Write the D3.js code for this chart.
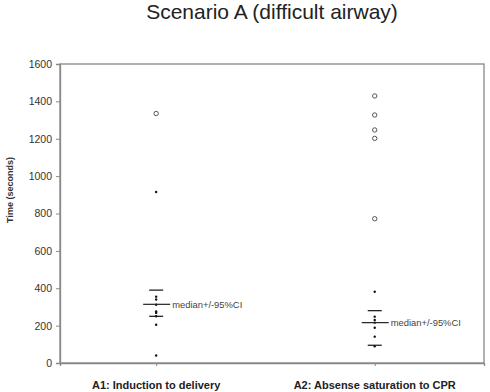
<!DOCTYPE html>
<html>
<head>
<meta charset="utf-8">
<script src="https://cdn.jsdelivr.net/npm/d3@7"></script>
<style>
  body { margin: 0; background: #fff; }
  svg { display: block; font-family: "Liberation Sans", Arial, sans-serif; }
</style>
</head>
<body>
<svg id="chart" width="490" height="392"></svg>
<script>
// values (seconds)
const categories = ["A1: Induction to delivery", "A2: Absense saturation to CPR"];
const a1Points = [915, 355, 340, 312, 276, 268, 250, 205, 40];
const a1Outliers = [1335];
const a2Points = [381, 248, 230, 216, 189, 141, 89];
const a2Outliers = [1429, 1327, 1247, 1202, 772];
const medians = [314, 216];
const ciLow = [250, 95];
const ciHigh = [390, 280];
const yTicks = [0, 200, 400, 600, 800, 1000, 1200, 1400, 1600];

const W = 490, H = 392;
const m = {left: 60, right: 6, top: 64, bottom: 29};

const svg = d3.select("#chart");

const x = d3.scaleLinear().domain([0.56, 2.5]).range([m.left, W - m.right]);
const y = d3.scaleLinear().domain([0, 1600]).range([H - m.bottom, m.top]);

// frame
svg.append("rect")
    .attr("x", m.left).attr("y", m.top)
    .attr("width", W - m.right - m.left).attr("height", H - m.bottom - m.top)
    .attr("fill", "none").attr("stroke", "#888").attr("stroke-width", 1.3);

// y axis
const yAxis = svg.append("g")
    .attr("transform", `translate(${m.left},0)`)
    .call(d3.axisLeft(y).tickValues(yTicks).tickSize(4).tickPadding(4).tickFormat(d3.format("d")));
yAxis.select(".domain").attr("stroke", "#888").attr("stroke-width", 1.3);
yAxis.selectAll(".tick line").attr("stroke", "#888");
yAxis.selectAll(".tick text").attr("font-size", 10.5).attr("fill", "#333")
    .attr("font-family", "Liberation Sans, Arial, sans-serif");

// x axis (ticks only)
const xAxis = svg.append("g")
    .attr("transform", `translate(0,${H - m.bottom})`)
    .call(d3.axisBottom(x).tickValues([1, 2]).tickSize(3).tickFormat(""));
xAxis.select(".domain").attr("stroke", "#888").attr("stroke-width", 1.3);
xAxis.selectAll(".tick line").attr("stroke", "#888");

// category labels
svg.append("g").selectAll("text")
    .data(categories)
    .join("text")
    .attr("x", (d, i) => x(i + 1))
    .attr("y", 389)
    .attr("text-anchor", "middle")
    .attr("font-size", 11)
    .attr("font-weight", "bold")
    .attr("fill", "#222")
    .text(d => d);

// titles
svg.append("text")
    .attr("x", 272).attr("y", 19)
    .attr("text-anchor", "middle")
    .attr("font-size", 21)
    .attr("fill", "#222")
    .text("Scenario A (difficult airway)");

svg.append("text")
    .attr("transform", `translate(13,190) rotate(-90)`)
    .attr("text-anchor", "middle")
    .attr("font-size", 9)
    .attr("font-weight", "bold")
    .attr("fill", "#333")
    .text("Time (seconds)");

const groups = [
    {points: a1Points, outliers: a1Outliers},
    {points: a2Points, outliers: a2Outliers}
];

groups.forEach((g, i) => {
    const cx = x(i + 1);
    const gg = svg.append("g");

    gg.selectAll("circle.pt")
        .data(g.points)
        .join("circle")
        .attr("class", "pt")
        .attr("cx", cx).attr("cy", d => y(d))
        .attr("r", 1.2)
        .attr("fill", "#111");

    gg.selectAll("circle.out")
        .data(g.outliers)
        .join("circle")
        .attr("class", "out")
        .attr("cx", cx).attr("cy", d => y(d))
        .attr("r", 2.2)
        .attr("fill", "none")
        .attr("stroke", "#555")
        .attr("stroke-width", 1);

    // CI bars
    gg.selectAll("line.ci")
        .data([ciLow[i], ciHigh[i]])
        .join("line")
        .attr("class", "ci")
        .attr("x1", cx - 7).attr("x2", cx + 7)
        .attr("y1", d => y(d)).attr("y2", d => y(d))
        .attr("stroke", "#111").attr("stroke-width", 1.2);

    // median line + leader
    gg.append("line")
        .attr("x1", cx - 13).attr("x2", cx + 14)
        .attr("y1", y(medians[i])).attr("y2", y(medians[i]))
        .attr("stroke", "#222").attr("stroke-width", 1.2);

    gg.append("text")
        .attr("x", cx + 16)
        .attr("y", y(medians[i]))
        .attr("dy", "0.35em")
        .attr("font-size", 9.4)
        .attr("fill", "#444")
        .text("median+/-95%CI");
});
</script>
</body>
</html>
